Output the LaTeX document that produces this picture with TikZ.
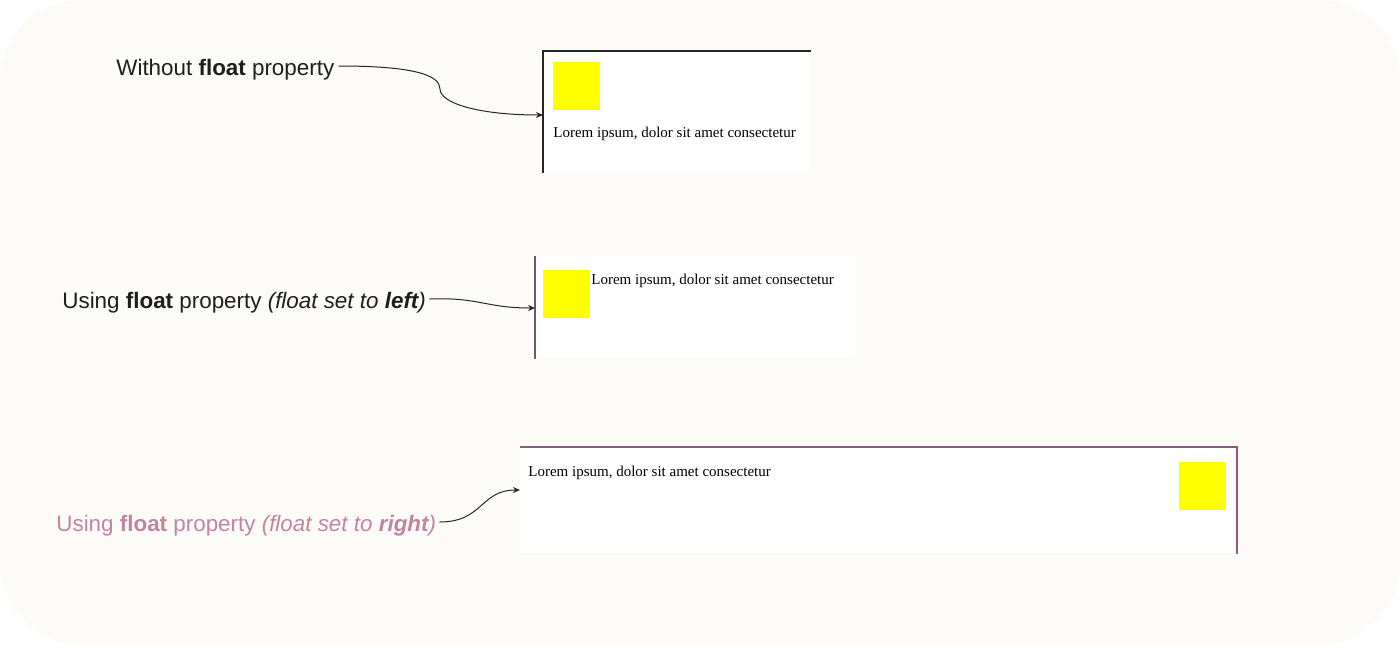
\documentclass[tikz,border=0pt]{standalone}
\usepackage{fontspec}
\setmainfont{Liberation Serif}
\newfontfamily\labfont{Liberation Sans}
\definecolor{bgc}{HTML}{FDFBF7}
\definecolor{labc}{HTML}{1E1E1E}
\definecolor{pinkc}{HTML}{BF86A4}
\definecolor{purc}{HTML}{8B5A7E}
\definecolor{greyc}{HTML}{6E5A66}
\definecolor{yel}{HTML}{FFFF00}
\usetikzlibrary{arrows.meta}
\tikzset{
  lab/.style={font=\labfont\fontsize{11.2}{13}\selectfont, text=labc, anchor=base west, inner sep=0pt},
  lorem/.style={font=\fontsize{7.5}{9}\selectfont, text=black, anchor=base west, inner sep=0pt},
  panel/.style={fill=white, draw=none, anchor=north west, inner sep=0pt},
  sq/.style={fill=yel, draw=none, anchor=north west, inner sep=0pt, minimum width=23.5pt, minimum height=24pt},
  conn/.style={draw=black!85, line width=0.5pt, -{Stealth[length=3.5pt,width=3pt]}},
}
\begin{document}
\begin{tikzpicture}[x=0.5pt,y=-0.5pt]
\useasboundingbox (0,0) rectangle (1400,644);
\fill[white] (0,0) rectangle (1400,644);
\fill[bgc, rounded corners=40pt] (0,0) rectangle (1400,644);

% panel 1
\node[panel, minimum width=133.5pt, minimum height=60.5pt] (p1) at (543,51) {};
\draw[black!85, line width=1pt] (p1.south west) -- (p1.north west) -- (p1.north east);
\node[sq] (s1) at (553,62) {};
\node[lorem] (t1) at (553,137) {Lorem ipsum, dolor sit amet consectetur};
\coordinate (a1) at (543,115);

% panel 2
\node[panel, minimum width=160pt, minimum height=51pt] (p2) at (535,256) {};
\draw[greyc, line width=0.8pt] (p2.south west) -- (p2.north west);
\node[sq] (s2) at (543,270) {};
\node[lorem] (t2) at (591,284) {Lorem ipsum, dolor sit amet consectetur};
\coordinate (a2) at (535,308);

% panel 3
\node[panel, minimum width=358pt, minimum height=53pt] (p3) at (520,447) {};
\draw[purc, line width=0.8pt] (p3.north west) -- (p3.north east) -- (p3.south east);
\node[sq] (s3) at (1179,462) {};
\node[lorem] (t3) at (528,476) {Lorem ipsum, dolor sit amet consectetur};
\coordinate (a3) at (520,490);

% labels
\node[lab] (l1) at (116,75) {Without \textbf{float} property};
\node[lab] (l2) at (62,308) {Using \textbf{float} property \textit{(float set to \textbf{left})}};
\node[lab, text=pinkc] (l3) at (56,531) {Using \textbf{float} property \textit{(float set to \textbf{right})}};

% connectors
\coordinate (m1) at (440,89);
\draw[conn] ([xshift=2pt,yshift=4.5pt]l1.base east) .. controls +(75,0) and +(0,-14) .. (m1) .. controls +(0,14) and +(-65,0) .. (a1);
\draw[conn] ([xshift=1.5pt,yshift=4.5pt]l2.base east) .. controls +(50,-2) and +(-50,0) .. (a2);
\draw[conn] ([xshift=1.5pt,yshift=4.5pt]l3.base east) .. controls +(44,0) and +(-40,0) .. (a3);
\end{tikzpicture}
\end{document}
